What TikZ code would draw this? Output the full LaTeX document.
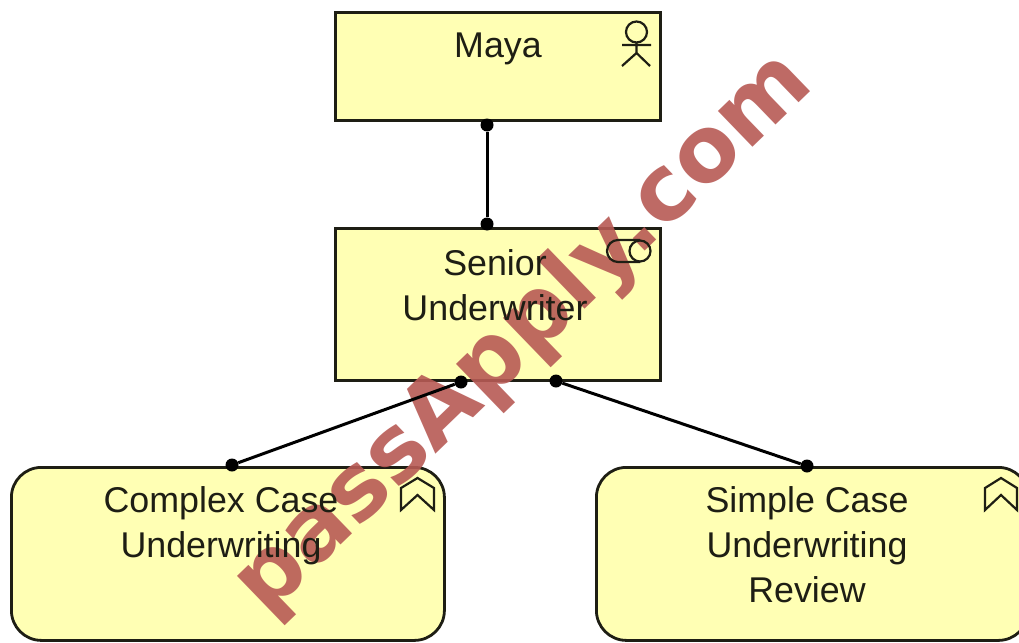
\documentclass[tikz,border=0pt]{standalone}
\usepackage{fontspec}
\setmainfont{Liberation Sans}
\newfontfamily\stampfont{DejaVu Sans}
\definecolor{boxfill}{HTML}{FFFFB4}
\definecolor{inkc}{HTML}{1E1E14}
\definecolor{markc}{HTML}{B85A55}
\tikzset{
  element/.style={draw=inkc,fill=boxfill,line width=2.8pt,inner sep=0pt,anchor=north west},
  roleelem/.style={element,rectangle},
  funcelem/.style={element,rectangle,rounded corners=30pt},
  lbl/.style={font=\fontsize{35.8}{45}\selectfont,text=inkc,align=center,anchor=north,inner sep=0pt},
  conn/.style={draw=black,line width=3pt},
  joint/.style={circle,fill=black,inner sep=0pt,minimum size=13pt},
  icon/.style={draw=inkc,line width=2.2pt,fill=none},
  stamp/.style={font=\stampfont\fontsize{91}{91}\bfseries\selectfont,text=markc,text opacity=0.9,rotate=44,inner sep=0pt,anchor=base}
}
\begin{document}
\begin{tikzpicture}[x=1pt,y=-1pt]
\useasboundingbox[fill=white] (0,0) rectangle (1019,642);
% boxes
\node[roleelem,minimum width=325pt,minimum height=108pt] (maya) at (334,11) {};
\node[roleelem,minimum width=325pt,minimum height=152pt] (senior) at (334,227) {};
\node[funcelem,minimum width=433pt,minimum height=173pt] (complex) at (10,466) {};
\node[funcelem,minimum width=432pt,minimum height=173pt] (simple) at (595,466) {};
% watermark
\node[stamp] (mark) at (541,352) {passApply.com};
% labels
\node[lbl] (mayat) at (498,33) {Maya};
\node[lbl] (seniort) at (495,249) {Senior\\Underwriter};
\node[lbl] (complext) at (221,486) {Complex Case\\Underwriting};
\node[lbl] (simplet) at (807,486) {Simple Case\\Underwriting\\Review};
% connector joints
\node[joint] (j1) at (487,125) {};
\node[joint] (j2) at (487,224) {};
\node[joint] (j3) at (461,382) {};
\node[joint] (j4) at (232,465) {};
\node[joint] (j5) at (556,381) {};
\node[joint] (j6) at (807,466) {};
\draw[conn] (j1) -- (j2);
\draw[conn] (j3) -- (j4);
\draw[conn] (j5) -- (j6);
% actor icon
\draw[icon] (636.5,32) circle (10.5pt);
\draw[icon] (636.5,42) -- (636.5,53) (622,45) -- (651,45) (622,66) -- (636.5,53) -- (650,66);
% role icon
\draw[icon] (640,240) -- (618,240) arc[start angle=90,end angle=270,radius=11pt] -- (640,262);
\draw[icon] (640,251) circle (10.5pt);
% function icons
\draw[icon,line join=miter] (401,510) -- (401,488) -- (417.5,478) -- (434,488) -- (434,510) -- (417.5,495) -- cycle;
\draw[icon,line join=miter] (985,510) -- (985,488) -- (1001,478) -- (1017,488) -- (1017,510) -- (1001,495) -- cycle;
\end{tikzpicture}
\end{document}
